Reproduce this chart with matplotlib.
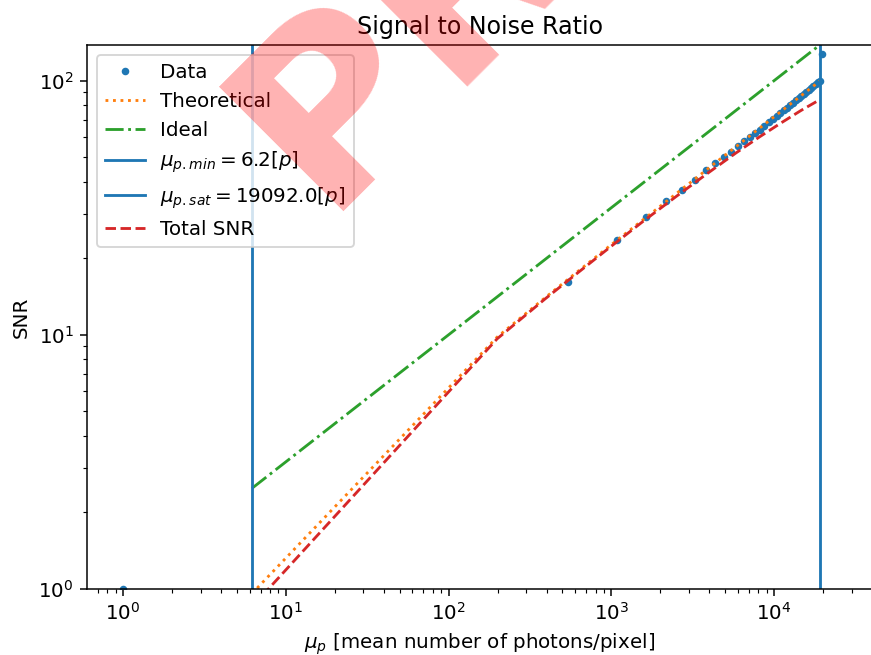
import matplotlib
matplotlib.use("Agg")
import matplotlib.pyplot as plt

# measured data points (mean photons / pixel, SNR)
data_mu = [1.0, 545, 1091, 1636, 2182, 2727, 3273, 3818, 4364, 4909, 5455,
           6000, 6546, 7091, 7637, 8182, 8728, 9273, 9819, 10364, 10910,
           11455, 12001, 12546, 13092, 13637, 14183, 14728, 15274, 15819,
           16365, 16910, 17456, 18001, 18547, 19092, 19600]
data_snr = [1.0, 16.1, 23.6, 29.2, 33.7, 37.3, 40.8, 44.4, 47.5, 50.1, 52.5,
            55.1, 57.7, 60.0, 62.2, 64.1, 66.4, 68.5, 70.6, 72.6, 74.5,
            76.4, 78.3, 80.1, 82.0, 83.7, 85.5, 87.2, 88.9, 90.5,
            92.2, 93.8, 95.4, 96.9, 98.5, 100.0, 127.7]

# model curves
model_mu = [6.2, 199, 392, 585, 971, 1550, 2514, 3864, 5792, 8106, 11000,
            14663, 19092]
theo_snr = [0.96, 9.8, 14.0, 17.2, 22.3, 28.2, 36.0, 44.7, 54.8, 64.9, 75.6,
            87.3, 99.6]
total_snr = [0.85, 9.65, 13.85, 17.0, 22.0, 27.8, 35.1, 43.0, 51.8, 60.0,
             68.1, 76.4, 84.2]

ideal_mu = [6.2, 19092]
ideal_snr = [2.49, 138.2]

mu_min = 6.2
mu_sat = 19092.0

plt.rcParams['font.size'] = 10.5

dpi = 136
fig = plt.figure(figsize=(871 / dpi, 655 / dpi), dpi=dpi)
ax = fig.add_axes([87 / 871, 66 / 655, (873 - 87) / 871, 544 / 655])

ax.plot(data_mu, data_snr, '.', label='Data')
ax.plot(model_mu, theo_snr, ':', label='Theoretical')
ax.plot(ideal_mu, ideal_snr, '-.', label='Ideal')
ax.axvline(mu_min, label=r'$\mu_{p.min} = %.1f[p]$' % mu_min)
ax.axvline(mu_sat, label=r'$\mu_{p.sat} = %.1f[p]$' % mu_sat)
ax.plot(model_mu, total_snr, '--', color='C3', label='Total SNR')

ax.set_xscale('log')
ax.set_yscale('log')
ax.set_xlim(0.601, 40550)
ax.set_ylim(1, 138.2)
ax.spines['right'].set_visible(False)

ax.set_title('Signal to Noise Ratio')
ax.set_xlabel(r'$\mu_p$ [mean number of photons/pixel]')
ax.set_ylabel('SNR')
ax.legend(loc='upper left')

# watermark
fig.text(322 / 871, 1 - 211 / 655, 'PRELIMINARY', color='red', alpha=0.3,
         fontsize=127, fontweight='bold', rotation=45, rotation_mode='anchor',
         ha='left', va='baseline')

fig.savefig('out.png', dpi=dpi)
